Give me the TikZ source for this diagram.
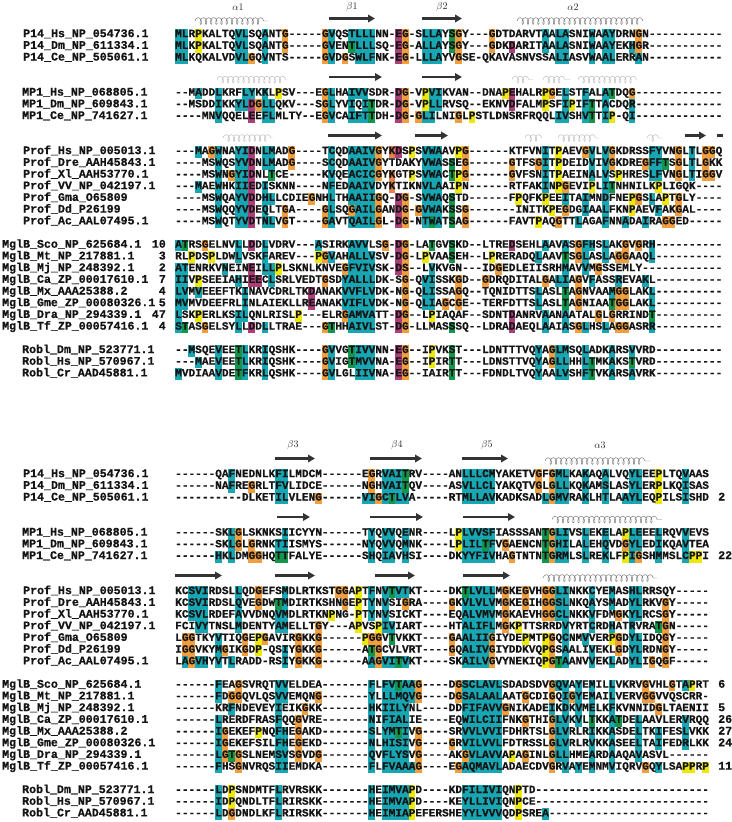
\documentclass[tikz,border=0pt]{standalone}
\usepackage{fontspec}
\usetikzlibrary{arrows.meta,decorations.pathmorphing}
\newfontfamily\seqfont{Liberation Mono}[BoldFeatures={FakeBold=0.7}]

\definecolor{hlc}{RGB}{24,166,178}
\definecolor{hlo}{RGB}{240,158,62}
\definecolor{hly}{RGB}{238,232,10}
\definecolor{hlm}{RGB}{172,62,120}
\definecolor{hlg}{RGB}{18,150,76}
\definecolor{hls}{RGB}{232,128,80}

\tikzstyle{seqtxt} = [anchor=base west, inner sep=0pt, text=black!92, font=\seqfont\bfseries\fontsize{11.12}{12}\selectfont]
\tikzstyle{nametxt} = [seqtxt, font=\seqfont\bfseries\fontsize{11.6}{12}\selectfont]
\tikzstyle{numtxt} = [nametxt]
\tikzstyle{sheet} = [draw=black!80, line width=2.6pt, -{Triangle[length=7pt,width=7.5pt]}]
\tikzstyle{helix} = [draw=black!55, line width=0.45pt, decorate, decoration={coil, aspect=0.55, segment length=5.2pt, amplitude=3.4pt}]
\tikzstyle{faint} = [helix, draw=black!28]
\tikzstyle{sslabel} = [inner sep=0pt, text=black!85, font=\fontsize{10}{10}\selectfont]

\newcommand{\seqx}{175}
\newcommand{\seqw}{6.672}
% one alignment line: y, x of name, name, residues, shaded columns
\newcommand{\seqrow}[5]{%
  \foreach \c/\k in {#5} {\fill[fill=hl\k] ({\seqx+(\c-1)*\seqw}, #1-4.4) rectangle ++(\seqw, 11.7);}
  \node[nametxt] at (#2, #1+3.6) {\detokenize{#3}};
  \node[seqtxt] at (\seqx, #1+3.6) {#4};
}

\begin{document}
\begin{tikzpicture}[x=1pt, y=-1pt]
\useasboundingbox (0,0) rectangle (731,822);

% secondary structure, upper block
\node[sslabel] (a1) at (238,7) {$\alpha$1};
\node[sslabel] (b1) at (352,7) {$\beta$1};
\node[sslabel] (b2) at (442,7) {$\beta$2};
\node[sslabel] (a2) at (573,7) {$\alpha$2};
\draw[helix] (195,21) -- (268,21);
\draw[sheet] (329,18.5) -- (375,18.5);
\draw[sheet] (422,18.5) -- (462,18.5);
\draw[helix] (517,21) -- (643,21);

\draw[faint] (217,79.5) -- (287,79.5);
\draw[sheet] (329,77) -- (382,77);
\draw[sheet] (422,77) -- (462,77);
\draw[faint] (512,79.5) -- (533,79.5);
\draw[faint] (543,79.5) -- (570,79.5);
\draw[faint] (578,79.5) -- (637,79.5);

\draw[faint] (223,138) -- (273,138);
\draw[sheet] (328,135.5) -- (382,135.5);
\draw[sheet] (415,135.5) -- (448,135.5);
\draw[faint] (525,138) -- (542,138);
\draw[faint] (558,138) -- (600,138);
\draw[faint] (647,138) -- (663,138);
\draw[sheet] (685,135.5) -- (706,135.5);
\draw[draw=black!80, line width=2.6pt] (717,135.5) -- (723,135.5);

% upper block
\seqrow{33.5}{23}{P14_Hs_NP_054736.1}{MLRPKALTQVLSQANTG-----GVQSTLLLNN-EG-SLLAYSGY---GDTDARVTAALASNIWAAYDRNGN-----------}
  {1/c,2/c,4/y,10/c,11/c,14/c,17/o,23/o,24/c,27/c,28/c,29/c,30/c,34/m,35/o,38/c,39/c,40/c,42/g,43/o,48/o,56/c,58/c,59/c,63/c,65/c,66/c,70/o}
\seqrow{45.2}{23}{P14_Dm_NP_611334.1}{MLKPKALTQVLSQANTG-----GVENTLLLSQ-EG-ALLAYSGY---GDKDARITAALASNIWAAYEKHGR-----------}
  {1/c,2/c,4/y,10/c,11/c,14/c,17/o,23/o,24/c,27/g,28/c,29/c,30/c,34/m,35/o,38/c,39/c,40/c,42/g,43/o,48/o,51/m,56/c,58/c,59/c,63/c,65/c,66/c,69/c,70/o}
\seqrow{56.9}{23}{P14_Ce_NP_505061.1}{MLKQKALVDVLGQVNTS-----GVDGSWLFNK-EG-LLLAYVGSE-QKAVASNVSSALIASVWAALERRAN-----------}
  {1/c,2/c,10/c,11/c,12/o,14/c,23/o,24/c,26/o,28/c,29/c,30/c,34/m,35/o,38/c,39/c,40/c,43/o,58/c,59/c,63/c,65/c,66/c,70/c}

\seqrow{92.0}{22}{MP1_Hs_NP_068805.1}{--MADDLKRFLYKKLPSV---EGLHAIVVSDR-DG-VPVIKVAN--DNAPEHALRPGELSTFALATDQG-------------}
  {4/c,7/c,11/c,12/c,14/c,16/y,23/o,24/c,27/c,28/c,29/c,34/m,35/o,38/y,39/c,40/c,50/y,51/m,56/y,57/o,59/c,62/c,65/c,66/g,69/o}
\seqrow{103.7}{22}{MP1_Dm_NP_609843.1}{--MSDDIKKYLDGLLQKV---SGLYVIQITDR-DG-VPLLRVSQ--EKNVDFALMPSFIPIFTTACDQR-------------}
  {7/c,10/c,11/c,12/m,13/o,14/c,15/c,23/o,24/c,27/c,29/c,30/g,34/m,35/o,38/y,39/c,40/c,51/m,56/y,59/c,60/y,62/c,63/g,65/c,69/c}
\seqrow{115.4}{22}{MP1_Ce_NP_741627.1}{----MNVQQELEEFLMLTY--EGVCAIFTTDH-DG-GLILNIGLPSTLDNSRFRQQLIVSHVTTIP-QI-------------}
  {7/c,12/m,14/c,15/c,23/o,24/c,27/c,28/c,29/c,30/g,34/m,35/o,37/o,38/c,39/c,43/o,45/y,58/c,59/c,62/c,63/g,65/c,66/y,69/c}

\seqrow{150.5}{23}{Prof_Hs_NP_005013.1}{---MAGWNAYIDNLMADG----TCQDAAIVGYKDSPSVWAAVPG------KTFVNITPAEVGVLVGKDRSSFYVNGLTLGGQ}
  {4/c,6/o,7/c,10/c,11/c,12/m,14/c,15/c,18/o,24/c,27/c,28/c,29/c,30/c,31/o,33/s,34/m,36/y,38/c,39/c,40/c,43/y,44/o,56/c,58/y,62/o,63/c,65/c,66/o,72/c,73/c,76/o,78/c,80/o,81/o}
\seqrow{162.2}{23}{Prof_Dre_AAH45843.1}{----MSWQSYVDNLMADG----SCQDAAIVGYTDAKYVWASSEG------GTFSGITPDEIDVIVGKDREGFFTSGLTLGKK}
  {7/c,10/c,11/c,12/m,14/c,15/c,18/o,24/c,27/c,28/c,29/c,30/c,31/o,38/c,39/c,40/c,42/g,44/o,51/o,55/o,56/c,58/y,63/c,65/c,66/o,71/o,72/c,73/c,74/g,76/o,78/c,80/o}
\seqrow{173.9}{23}{Prof_Xl_AAH53770.1}{----MSWNGYIDNLTCE-----KVQEACICGYKGTPSVWACTPG------GVFSNITPAEINALVSPHRESLFVNGLTIGGV}
  {7/c,9/o,10/c,11/c,12/m,15/g,24/c,27/c,28/c,29/c,30/c,31/o,33/s,36/y,38/c,39/c,40/c,42/g,43/y,44/o,51/o,56/c,58/y,63/c,65/c,67/y,72/c,73/c,76/o,78/c,80/o,81/o}
\seqrow{185.6}{23}{Prof_VV_NP_042197.1}{---MAEWHKIIEDISKNN----NFEDAAIVDYKTIKNVLAAIPN------RTFAKINPGEVIPLITNHNILKPLIGQK----}
  {4/c,7/c,10/c,11/c,12/m,14/c,24/c,27/c,28/c,29/c,30/c,33/s,38/c,39/c,40/c,43/y,56/c,58/y,59/o,63/y,65/c,66/g,73/y}
\seqrow{197.3}{23}{Prof_Gma_O65809}{----MSWQAYVDDHLLCDIEGNHLTHAAIIGQ-DG-SVWAQSTD------FPQFKPEEITAIMNDFNEPGSLAPTGLY----}
  {7/c,10/c,11/c,12/m,14/c,15/c,21/o,24/c,27/c,28/c,29/c,30/c,31/o,34/m,35/o,38/c,39/c,40/c,42/g,52/y,56/y,59/c,62/c,65/c,69/y,70/o,72/c,74/y,76/o}
\seqrow{209.0}{23}{Prof_Dd_P26199}{----MSWQQYVDEQLTGA----GLSQGAILGANDG-GVWAKSSG-------INITKPEGDGIAALFKNPAEVFAKGAL----}
  {7/c,10/c,11/c,12/m,14/c,17/o,23/o,24/c,27/o,28/c,29/c,30/c,31/o,34/m,35/o,37/o,38/c,39/c,40/c,42/g,44/o,57/y,59/o,62/c,65/c,69/y,73/c,76/o}
\seqrow{220.7}{23}{Prof_Ac_AAL07495.1}{----MSWQTYVDTNLVGT----GAVTQAILGL-DG-NTWATSAG------FAVTPAQGTTLAGAFNNADAIRAGGED-----}
  {7/c,10/c,11/c,12/m,14/c,15/c,17/o,23/o,24/c,27/c,28/c,29/c,30/c,31/o,34/m,35/o,38/c,39/g,40/c,42/g,44/o,55/y,58/o,61/c,65/c,68/c,71/c,74/o,75/o}

\seqrow{244.1}{2}{MglB_Sco_NP_625684.1}{ATRSGELNVLLDDLVDRV---ASIRKAVVLSG-DG-LATGVSKD--LTREDSEHLAAVASGFHSLAKGVGRH----------}
  {1/c,2/g,5/o,10/c,12/m,14/c,22/c,27/c,28/c,29/c,32/o,34/m,35/o,39/g,42/g,51/m,56/c,59/c,61/o,62/c,63/c,65/c,68/o,70/o,72/c}
\seqrow{255.8}{2}{MglB_Mt_NP_217881.1}{RLPDSPLDWLVSKFAREV---PGVAHALLVSV-DG-LPVAASEH--LPRERADQLAAVTSGLASLAGGAAQL----------}
  {3/y,6/y,10/c,14/c,22/y,23/o,24/c,27/c,28/c,29/c,30/c,34/m,35/o,38/y,42/g,48/y,55/c,59/g,61/o,62/c,65/c,67/o,68/o,72/c}
\seqrow{267.5}{2}{MglB_Mj_NP_248392.1}{ATENRKVNEINEILLPLSKNLKNVEGFVIVSK-DS--LVKVGN---IDGEDLEIISRHMAVVMGSSEMLY------------}
  {1/c,2/c,8/c,12/m,14/c,15/c,16/y,26/o,27/c,28/c,29/c,30/c,34/m,35/o,39/c,49/o,59/c,62/c,64/o}
\seqrow{279.2}{2}{MglB_Ca_ZP_00017610.1}{IIVPSEEIAHIEECLSRLVEDTGSDYALLLDK-SG-QVISSKGD--GDRQDITALGALIAGVFASSREVAKL----------}
  {1/c,2/c,4/y,10/c,12/m,13/m,15/c,23/o,26/c,27/c,28/c,29/c,30/c,35/o,38/c,39/c,43/o,47/o,56/o,58/c,59/c,61/o,63/c,67/c,71/c}
\seqrow{290.9}{2}{MglB_Mx_AAA25388.2}{LVMVEEEFTKINAVCDRLTKDANAKVVFLVDK-NG-QLISSAGQ--TQNIDTTSLASLTAGNVAAMGGLAKL----------}
  {1/c,2/c,4/c,11/c,21/m,26/c,27/c,28/c,29/c,30/c,35/o,38/c,39/c,43/o,55/c,59/g,61/o,66/c,67/o,68/o,72/c}
\seqrow{302.6}{2}{MglB_Gme_ZP_00080326.1}{MVMVDEEFRLINLAIEKLLREANAKVIFLVDK-NG-QLIAGCGE--TERFDTTSLASLTAGNIAATGGLAKL----------}
  {1/c,2/c,11/c,21/m,26/c,27/c,28/c,29/c,30/c,35/o,38/c,39/c,41/o,43/o,55/c,59/g,61/o,66/g,67/o,68/o,72/c}
\seqrow{314.3}{2}{MglB_Dra_NP_294339.1}{LSKPERLKSILQNLRISLP---ELRGAMVATT-DG--LPIAQAF--SDNTDANRVAANAATALGLGRRINDT----------}
  {1/c,4/y,10/c,11/c,19/y,26/o,27/c,28/c,29/c,30/c,34/m,35/o,39/y,51/m,56/c,59/c,64/o,66/o,72/g}
\seqrow{326.0}{2}{MglB_Tf_ZP_00057416.1}{STASGELSYLLDDLLTRAE---GTHHAIVLST-DG-LLMASSSQ--LDRADAEQLAAIASGLHSLAGGASRR----------}
  {1/c,2/g,5/o,10/c,12/m,14/c,23/o,24/g,27/c,28/c,29/c,30/c,34/m,35/o,42/g,51/m,56/c,59/c,61/o,62/c,65/c,67/o,68/o,72/c}
\node[numtxt, anchor=base east] (n1) at (166,247.7) {10};
\node[numtxt, anchor=base east] (n2) at (166,259.4) {3};
\node[numtxt, anchor=base east] (n3) at (166,271.1) {2};
\node[numtxt, anchor=base east] (n4) at (166,282.8) {7};
\node[numtxt, anchor=base east] (n5) at (166,294.5) {4};
\node[numtxt, anchor=base east] (n6) at (166,306.2) {5};
\node[numtxt, anchor=base east] (n7) at (166,317.9) {47};
\node[numtxt, anchor=base east] (n8) at (166,329.6) {4};

\seqrow{349.4}{22}{Robl_Dm_NP_523771.1}{--MSQEVEETLKRIQSHK----GVVGTIVVNN-EG--IPVKST---LDNTTTVQYAGLMSQLADKARSVVRD----------}
  {3/c,7/c,10/g,11/c,14/c,23/o,24/c,27/g,28/c,29/c,30/c,34/m,35/o,39/y,42/g,55/c,57/o,58/c,59/c,62/c,66/c,69/c}
\seqrow{361.1}{22}{Robl_Hs_NP_570967.1}{---MAEVEETLKRIQSHK----GVIGTMVVNA-EG--IPIRTT---LDNSTTVQYAGLLHHLTMKAKSTVRD----------}
  {4/c,7/c,10/g,11/c,14/c,23/o,24/c,27/g,28/c,29/c,30/c,34/m,35/o,39/y,42/g,55/c,57/o,58/c,59/c,62/c,63/g,66/c,69/g}
\seqrow{372.8}{22}{Robl_Cr_AAD45881.1}{MVDIAAVDETFKRLQSHK----GVLGLIIVNA-EG--IAIRTT---FDNDLTVQYAALVSHFTVKARSAVRK----------}
  {1/c,7/c,10/g,11/c,14/c,23/o,24/c,28/c,29/c,30/c,34/m,35/o,42/g,55/c,58/c,59/c,62/c,63/g,66/c,69/c}

% secondary structure, lower block
\node[sslabel] (b3) at (293,445) {$\beta$3};
\node[sslabel] (b4) at (397,445) {$\beta$4};
\node[sslabel] (b5) at (487,445) {$\beta$5};
\node[sslabel] (a3) at (600,445) {$\alpha$3};
\draw[sheet] (275,458.5) -- (315,458.5);
\draw[sheet] (370,458.5) -- (422,458.5);
\draw[sheet] (462,458.5) -- (508,458.5);
\draw[helix] (545,461) -- (650,461);

\draw[sheet] (277,517) -- (310,517);
\draw[sheet] (370,517) -- (423,517);
\draw[sheet] (463,517) -- (515,517);
\draw[helix] (552,519.5) -- (662,519.5);

\draw[sheet] (175,575.5) -- (222,575.5);
\draw[sheet] (275,575.5) -- (315,575.5);
\draw[sheet] (375,575.5) -- (415,575.5);
\draw[sheet] (463,575.5) -- (510,575.5);
\draw[helix] (543,578) -- (657,578);

% lower block
\seqrow{473.5}{23}{P14_Hs_NP_054736.1}{------QAFNEDNLKFILMDCM------EGRVAITRV----ANLLLCMYAKETVGFGMLKAKAQALVQYLEEPLTQVAAS}
  {9/c,16/c,17/c,30/o,32/c,33/c,34/c,35/g,44/c,45/c,46/c,47/c,48/c,55/o,57/o,58/c,59/c,62/c,65/c,69/c,70/c,73/y,77/c}
\seqrow{485.2}{23}{P14_Dm_NP_611334.1}{------NAFREGRLTFVLIDCE------NGHVAITQV----ASVLLCLYAKQTVGLGLLKQKAMSLASYLERPLKQISAS}
  {9/c,12/o,16/c,17/c,30/o,32/c,33/c,34/c,35/g,44/c,45/c,46/c,47/c,48/c,55/o,57/o,58/c,59/c,62/c,65/c,69/c,70/c,73/y,77/c}
\seqrow{496.9}{23}{P14_Ce_NP_505061.1}{----------DLKETILVLENG------VIGCTLVA-----RTMLLAVKADKSADLGMVRAKLHTLAAYLEQPILSISHD}
  {16/c,17/c,22/o,29/c,30/c,31/o,32/c,33/g,34/c,35/c,44/c,45/c,46/c,47/c,48/c,56/c,57/o,58/c,59/c,62/c,65/c,68/c,69/c,70/c,73/y,77/c}
\node[numtxt, anchor=base west] (m1) at (718,500.5) {2};

\seqrow{532.0}{22}{MP1_Hs_NP_068805.1}{------SKLGLSKNKSIICYYN------TYQVVQENR----LPLVVSFIASSSANTGLIVSLEKELAPLEEELRQVVEVS}
  {9/c,10/o,17/c,30/c,32/c,33/c,35/c,43/y,44/c,45/c,46/c,47/c,48/c,56/g,57/o,58/c,59/c,62/c,65/c,68/y,69/c,70/c,73/c,77/c}
\seqrow{543.7}{22}{MP1_Dm_NP_609843.1}{------SKLGLGRNKTIISMYS------NYQVVQMNK----LPLILTFVGAENCNTGHILALEHQVDGYLEDIKQAVTEA}
  {9/c,10/o,12/o,16/c,17/c,30/c,32/c,33/c,35/c,43/y,44/c,45/c,46/c,47/g,48/c,50/o,56/g,57/o,58/c,59/c,62/c,65/c,68/o,69/c,70/c,73/c,77/c}
\seqrow{555.4}{22}{MP1_Ce_NP_741627.1}{------HKLDMGGHQTTFALYE------SHQIAVHSI----DKYYFIVHAGTNTNTGRMLSLREKLFPIGSHMMSLCPPI}
  {7/c,9/c,12/o,13/o,16/g,17/g,30/c,32/c,33/c,35/c,44/c,45/c,46/c,47/c,48/c,51/o,56/g,57/o,58/c,59/c,62/c,65/c,68/y,69/c,70/o,73/c,77/c,78/y,79/y}
\node[numtxt, anchor=base west] (m2) at (718,559.0) {22};

\seqrow{590.5}{23}{Prof_Hs_NP_005013.1}{KCSVIRDSLLQDGEFSMDLRTKSTGGAPTFNVTVTKT----DKTLVLLMGKEGVHGGLINKKCYEMASHLRRSQY-----}
  {3/c,4/c,5/c,10/c,13/o,17/c,25/o,26/o,28/y,30/c,32/c,33/g,34/c,35/c,44/g,45/c,46/c,47/c,48/c,50/o,53/o,56/o,57/o,58/c,59/c,63/c,66/c,69/c,70/c}
\seqrow{602.2}{23}{Prof_Dre_AAH45843.1}{KCSVIRDSLQVEGDWTMDIRTKSHNGEPTYNVSIGRA----GKVLVLVMGKEGIHGGSLNKQAYSMADYLRKVGY-----}
  {3/c,4/c,5/c,10/c,13/o,16/g,17/c,26/o,28/y,30/c,32/c,35/o,42/o,44/c,45/c,46/c,47/c,48/c,50/o,53/o,56/o,57/o,58/c,59/c,63/c,66/c,69/c,70/c,74/o}
\seqrow{613.9}{23}{Prof_Xl_AAH53770.1}{KCSVLRDEFAVVDNQVMDLRTKNPNG-PTYNVSICKT----EQALVMVMGKAEVHGGCLNKKVFDMGKYLRCSGY-----}
  {3/c,4/c,5/c,10/c,16/c,17/c,24/y,28/y,30/c,32/c,44/c,45/c,46/c,47/c,48/c,50/o,56/o,57/o,58/c,59/c,63/c,67/o,69/c,70/c,74/o}
\seqrow{625.6}{23}{Prof_VV_NP_042197.1}{FCIVYTNSLMDENTYAMELLTGY---APVSPIVIART----HTALIFLMGKPTTSRRDVYRTCRDHATRVRATGN-----}
  {4/c,5/c,10/c,16/c,17/c,22/o,28/y,31/y,32/c,33/c,44/c,45/c,46/c,47/c,48/c,50/o,52/y,59/c,63/c,66/c,69/c,73/g,74/o}
\seqrow{637.3}{23}{Prof_Gma_O65809}{LGGTKYVTIQGEPGAVIRGKKG------PGGVTVKKT----GAALIIGIYDEPMTPGQCNMVVERPGDYLIDQGY-----}
  {2/o,3/o,7/c,11/o,13/y,14/o,19/o,22/o,29/y,30/o,31/o,33/g,42/o,44/c,45/c,46/c,47/c,48/o,53/y,56/y,57/o,59/c,62/c,66/y,67/o,69/c,70/c,74/o}
\seqrow{649.0}{23}{Prof_Dd_P26199}{IGGVKYMGIKGDP-QSIYGKKG------ATGCVLVRT----GQALIVGIYDDKVQPGSAALIVEKLGDYLRDNGY-----}
  {2/o,3/o,7/c,8/o,11/o,13/y,17/c,19/o,22/o,30/g,31/o,42/o,44/c,45/c,46/c,47/c,48/o,56/y,57/o,59/c,63/c,67/o,69/c,70/c,74/o}
\seqrow{660.7}{23}{Prof_Ac_AAL07495.1}{LAGVHYVTLRADD-RSIYGKKG------AAGVITVKT----SKAILVGVYNEKIQPGTAANVVEKLADYLIGQGF-----}
  {2/c,3/o,4/c,5/c,7/c,9/c,17/c,19/o,22/o,30/c,31/o,32/c,33/c,34/g,35/c,44/c,45/c,46/c,47/c,48/o,56/y,57/o,58/g,59/c,63/c,66/c,69/c,70/c,72/o,74/o}

\seqrow{684.1}{2}{MglB_Sco_NP_625684.1}{------FEAGSVRQTVVELDEA-------FLFVTAAG----DGSCLAVLSDADSDVGQVAYEMILLVKRVGVHLGTAPRT}
  {7/c,10/o,16/c,17/c,30/c,32/c,33/c,34/g,35/c,36/c,37/o,43/o,44/c,45/c,46/c,47/c,48/c,49/c,57/o,58/c,59/c,61/c,63/c,66/c,71/o,75/o,77/c,78/y}
\seqrow{695.8}{2}{MglB_Mt_NP_217881.1}{------FDGGQVLQSVVEMQNG-------YLLLMQVG----DGSALAALAATGCDIGQIGYEMAILVERVGGVVQSCRR-}
  {7/c,9/o,10/o,16/c,17/c,22/o,30/c,32/c,33/c,34/c,35/c,36/c,37/o,43/o,44/c,45/c,46/c,47/c,48/c,49/c,53/o,57/o,59/c,60/o,61/c,63/c,66/c,71/o,72/o}
\seqrow{707.5}{2}{MglB_Mj_NP_248392.1}{------KRFNDEVEYIEIKGKK-------HKIILYNL----DDFIFAVVGNIKADEIKDKVMELKFKVNNIDGLTAENII}
  {9/c,16/c,20/o,30/c,32/c,33/c,34/c,35/c,44/c,45/c,46/c,47/c,48/c,49/c,50/o,57/c,59/c,61/c,63/c,66/c,73/o}
\seqrow{719.2}{2}{MglB_Ca_ZP_00017610.1}{------LRERDFRASFQQGVRE-------NIFIALIE----EQWILCIIFNKGTHIGLVKVLTKKATDELAAVLERVRQQ}
  {7/c,16/c,19/o,30/c,32/c,33/c,34/c,35/c,44/c,45/c,46/c,47/c,48/c,49/c,53/o,57/o,58/c,59/c,61/c,63/g,66/c,67/g,70/c,77/c}
\seqrow{730.9}{2}{MglB_Mx_AAA25388.2}{------IGEKEFPNQFHEGAKD-------SLYMTIVG----SRVVLVVIFDHRTSLGLVRLRIKKASDELTKIFESLVKK}
  {7/c,8/o,13/y,16/c,17/c,19/o,30/c,32/c,33/c,34/g,35/c,37/o,44/c,45/c,46/c,47/c,48/c,49/c,57/o,58/c,59/c,63/c,66/c,70/c,73/c,77/c}
\seqrow{742.6}{2}{MglB_Gme_ZP_00080326.1}{------IGEKEFSILFHEGEKD-------NLHISIVG----GRVILVVLFDTRSSLGLVRLRVKKASEELTAIFEDRLKK}
  {7/c,8/o,16/c,17/c,19/o,30/c,32/c,33/c,34/c,35/c,37/o,42/o,44/c,45/c,46/c,47/c,48/c,49/c,57/o,58/c,59/c,63/c,66/c,70/c,73/c,77/c}
\seqrow{754.3}{2}{MglB_Dra_NP_294339.1}{------LGTGSLNEMSVSGVDG-------QVFLYSVG----AKGVLAVVAPAGINLGLLHMEARDAAQAVASVL------}
  {7/c,8/o,9/g,10/o,16/c,17/c,19/o,22/o,30/c,32/c,33/c,34/c,35/c,37/o,44/o,45/c,46/c,47/c,48/c,49/c,51/y,53/o,57/o,58/c,59/c,63/c,66/c,70/c}
\seqrow{766.0}{2}{MglB_Tf_ZP_00057416.1}{------FHSGNVRQSIIEMDKA-------FLFVAAAG----EGAQMAVLADAECDVGRVAYEMNMVIQRVGQYLSAPPRP}
  {7/c,10/o,16/c,17/c,30/c,32/c,33/c,34/c,35/c,36/c,37/o,43/o,44/c,45/c,46/c,47/c,48/c,49/c,57/o,59/c,61/c,63/c,66/c,71/o,73/c,77/y,78/y,80/y}
\node[numtxt, anchor=base west] (m3) at (718,687.7) {6};
\node[numtxt, anchor=base west] (m4) at (718,711.1) {5};
\node[numtxt, anchor=base west] (m5) at (718,722.8) {26};
\node[numtxt, anchor=base west] (m6) at (718,734.5) {27};
\node[numtxt, anchor=base west] (m7) at (718,746.2) {24};
\node[numtxt, anchor=base west] (m8) at (718,769.6) {11};

\seqrow{789.4}{22}{Robl_Dm_NP_523771.1}{------LDPSNDMTFLRVRSKK-------HEIMVAPD----KDFILIVIQNPTD--------------------------}
  {7/c,9/y,16/c,30/c,32/c,33/c,34/c,35/c,36/y,44/c,45/c,46/c,47/c,48/c,49/c,52/y}
\seqrow{801.1}{22}{Robl_Hs_NP_570967.1}{------IDPQNDLTFLRIRSKK-------HEIMVAPD----KEYLLIVIQNPCE--------------------------}
  {7/c,9/y,16/c,30/c,32/c,33/c,34/c,35/c,36/y,44/c,45/c,46/c,47/c,48/c,49/c,52/y}
\seqrow{812.8}{22}{Robl_Cr_AAD45881.1}{------LDGDNDLKFLRIRSKK-------HEIMIAPEFERSHEYYLVVVQDPSREA------------------------}
  {7/c,9/o,16/c,30/c,32/c,33/c,34/c,35/c,36/y,44/c,45/c,46/c,47/c,48/c,49/c,52/y,56/c}
\end{tikzpicture}
\end{document}
